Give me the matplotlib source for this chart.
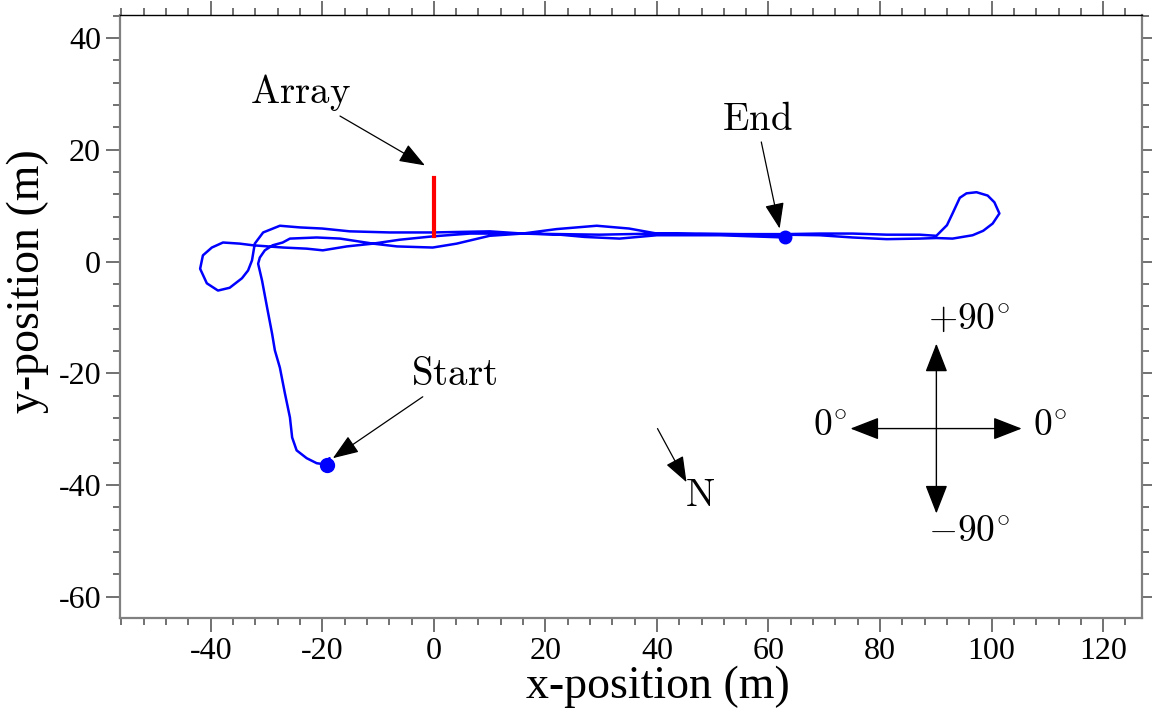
import matplotlib
matplotlib.use('Agg')
import matplotlib.pyplot as plt
from matplotlib.ticker import MultipleLocator

plt.rcParams['font.family'] = ['Liberation Serif', 'DejaVu Serif']
plt.rcParams['mathtext.fontset'] = 'cm'
plt.rcParams['axes.unicode_minus'] = False

# trajectory (m)
track_x = [-19.2, -18.7, -19.6, -21.0, -22.8, -24.6, -25.4, -25.8, -26.7, -27.6,
           -28.5, -29.0, -29.9, -30.8, -31.5, -31.2, -30.3, -28.9, -27.1, -25.8,
           -21.0, -16.8, -10.9, -6.6, -0.2, 4.1, 10.0, 15.9, 22.0, 29.2,
           35.0, 40.0, 47.7, 55.0, 62.9, 69.2, 75.1, 81.2, 87.1, 90.1,
           92.0, 93.0, 94.3, 95.5, 97.3, 99.3, 100.5, 101.4, 100.2, 98.5,
           96.6, 93.0, 90.1, 87.1, 81.2, 75.1, 69.2, 62.9, 51.3, 40.0,
           29.7, 15.9, 10.0, -0.2, -7.9, -15.1, -20.0, -24.0, -27.6, -30.6,
           -32.1, -32.6, -33.3, -34.4, -36.6, -38.7, -40.7, -41.9, -41.4, -39.8,
           -37.8, -34.8, -32.4, -27.0, -22.8, -19.9, -15.6, -10.9, -6.1, -0.2,
           6.5, 15.9, 22.6, 27.0, 33.3, 40.0, 51.3, 62.9]
track_y = [-36.5, -35.2, -36.3, -36.1, -35.2, -33.8, -31.5, -27.9, -23.6, -19.0,
           -15.9, -12.9, -8.2, -3.4, -0.4, 0.7, 2.0, 2.9, 3.4, 4.1,
           4.3, 4.1, 3.2, 2.7, 2.5, 3.2, 4.6, 5.0, 5.8, 6.4,
           5.9, 5.0, 5.0, 4.9, 4.9, 5.0, 5.0, 4.8, 4.8, 4.6,
           6.5, 8.6, 11.4, 12.2, 12.4, 11.8, 10.6, 8.6, 6.8, 5.5,
           4.7, 4.1, 4.2, 4.1, 4.0, 4.3, 4.7, 4.8, 4.8, 5.0,
           4.8, 5.0, 5.4, 5.2, 5.2, 5.4, 5.9, 6.1, 6.4, 5.2,
           3.2, 0.2, -1.6, -3.0, -4.7, -5.2, -3.9, -1.3, 1.1, 2.5,
           3.4, 3.2, 2.9, 2.5, 2.3, 2.0, 2.7, 3.2, 3.9, 4.5,
           5.0, 5.0, 4.8, 4.4, 4.1, 4.7, 4.7, 4.3]

start_pt = (-19.2, -36.5)
end_pt = (62.9, 4.3)
array_x = [0, 0]
array_y = [4.5, 15.0]

# annotations: (label, text position, arrow tip)
notes = [
    ('Array', (-24.0, 30.2), (-1.6, 17.2)),
    ('End', (57.9, 25.2), (62.0, 5.9)),
    ('Start', (3.6, -20.4), (-18.1, -35.2)),
]
north_tail = (40.1, -29.9)
north_tip = (45.3, -39.5)
north_label = (47.7, -42.0)

compass_c = (90.1, -29.9)
compass_ends = [(90.1, -14.7), (90.1, -45.1), (74.7, -29.9), (105.4, -29.9)]
compass_labels = [(r'$+90^{\circ}$', (95.9, -10.4)), (r'$-90^{\circ}$', (95.9, -48.4)),
                  (r'$0^{\circ}$', (71.0, -29.4)), (r'$0^{\circ}$', (110.5, -29.4))]

fig = plt.figure(figsize=(11.52, 7.19), dpi=100)
ax = fig.add_axes([0.104, 0.1405, 0.887, 0.8385])

ax.plot(track_x, track_y, color='blue', linewidth=1.8)
ax.plot(*start_pt, 'o', color='blue', markersize=10)
ax.plot(*end_pt, 'o', color='blue', markersize=9)
ax.plot(array_x, array_y, color='red', linewidth=3)

arrow = dict(arrowstyle='-|>,head_length=0.8,head_width=0.3', color='black',
             linewidth=0.9, shrinkA=0, shrinkB=0, mutation_scale=20)
for label, txt, tip in notes:
    ax.annotate(r'$\mathrm{%s}$' % label, xy=tip, xytext=txt, fontsize=28,
                ha='center', va='center', arrowprops=arrow)

ax.annotate('', xy=north_tip, xytext=north_tail, arrowprops=arrow)
ax.text(*north_label, r'$\mathrm{N}$', fontsize=28, ha='center', va='center')

carrow = dict(arrowstyle='-|>,head_length=0.9,head_width=0.35', color='black',
              linewidth=1.0, shrinkA=0, shrinkB=0, mutation_scale=20)
for e in compass_ends:
    ax.annotate('', xy=e, xytext=compass_c, arrowprops=carrow)
for lab, pos in compass_labels:
    ax.text(*pos, lab, fontsize=27, ha='center', va='center')

ax.set_xlim(-56.3, 126.9)
ax.set_ylim(-63.8, 44.1)
ax.xaxis.set_major_locator(MultipleLocator(20))
ax.xaxis.set_minor_locator(MultipleLocator(4))
ax.yaxis.set_major_locator(MultipleLocator(20))
ax.yaxis.set_minor_locator(MultipleLocator(4))
ax.tick_params(which='both', direction='out', top=True, right=True, color='#666666',
               width=1.3)
ax.tick_params(which='major', length=10, labelsize=23)
ax.tick_params(which='minor', length=5)

for s in ['left', 'bottom', 'right']:
    ax.spines[s].set_color('#808080')
    ax.spines[s].set_linewidth(1.6)
ax.spines['top'].set_color('black')
ax.spines['top'].set_linewidth(1.0)

ax.set_xlabel('x-position (m)', fontsize=33)
ax.set_ylabel('y-position (m)', fontsize=33)
ax.xaxis.set_label_coords(0.527, -0.078)
ax.yaxis.set_label_coords(-0.069, 0.559)

fig.savefig('out.png', dpi=100)
